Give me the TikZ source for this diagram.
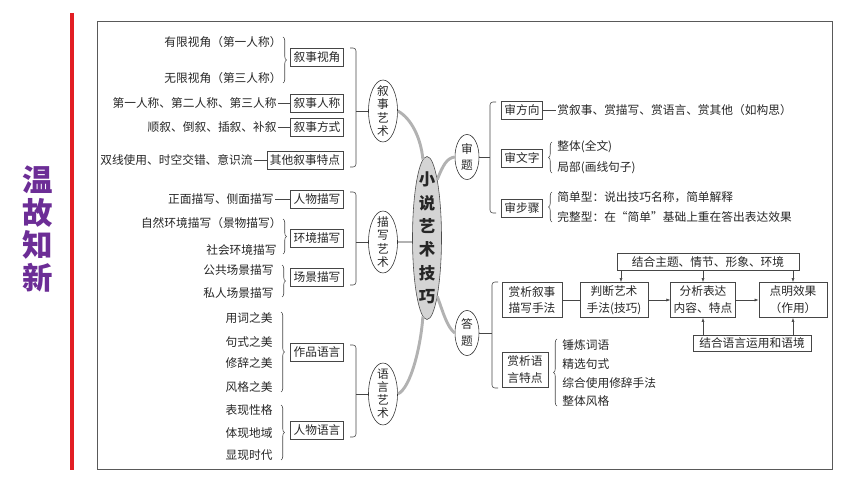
\documentclass[tikz,border=0pt]{standalone}
\usepackage{fontspec}
\setmainfont{Noto Sans CJK SC}
\usetikzlibrary{shapes.geometric,decorations.pathreplacing,arrows.meta,calc}
\definecolor{titlepurple}{RGB}{108,45,150}
\definecolor{edgered}{RGB}{226,30,36}
\definecolor{linegray}{RGB}{70,70,70}
\definecolor{branchgray}{RGB}{178,178,178}
\definecolor{coregray}{RGB}{212,212,212}
\begin{document}
\begin{tikzpicture}[
        x=0.03cm, y=-0.03cm,
        every node/.style={font=\fontsize{10}{12}\selectfont, text=black!85},
        txt/.style={inner sep=1pt},
        box/.style={draw=linegray, line width=0.5pt, inner xsep=2.5pt, inner ysep=1pt, minimum height=0.54cm},
        twobox/.style={box, align=center, font=\fontsize{10}{14.5}\selectfont, minimum width=1.8cm, minimum height=1.05cm},
        oval/.style={ellipse, draw=black!80, line width=0.5pt, inner sep=0, minimum width=0.87cm, minimum height=1.86cm},
        ovaltext/.style={align=center, inner sep=0, font=\fontsize{10}{11.2}\selectfont},
        link/.style={draw=linegray, line width=0.5pt},
        brc/.style={link, decorate, decoration={brace, amplitude=3pt}},
        bkt/.style={link, rounded corners=2.5pt},
        branch/.style={draw=branchgray, line width=2.5pt},
        arr/.style={link, -{Latex[length=3.5pt,width=2.6pt]}}
    ]
    \useasboundingbox (0,0) rectangle (860,484);

    % side title and frame
    \draw[edgered, line width=3pt] (72,13) -- (72,470);
    \node[
        font=\fontsize{26}{28}\selectfont\bfseries,
        text=titlepurple,
        align=center,
        inner sep=0
    ] (title) at (38,229) {温\\故\\知\\新};
    \draw[gray!70!black, line width=0.6pt] (97,21) rectangle (832,469);

    % centre and branches
    \node[
        oval,
        fill=coregray,
        draw=gray!60!black,
        minimum height=4.89cm,
        label={[ovaltext, font=\fontsize{14}{20}\selectfont\bfseries]center:{小\\说\\艺\\术\\技\\巧}}
    ] (core) at (427,238) {};
    \node[oval, label={[ovaltext]center:{叙\\事\\艺\\术}}] (xs) at (383,111) {};
    \node[oval, label={[ovaltext]center:{描\\写\\艺\\术}}] (ms) at (383,242) {};
    \node[oval, label={[ovaltext]center:{语\\言\\艺\\术}}] (yy) at (383,394) {};
    \node[
        oval,
        minimum width=0.72cm,
        minimum height=1.35cm,
        label={[ovaltext, font=\fontsize{10}{14.5}\selectfont]center:{审\\题}}
    ] (st) at (467,157) {};
    \node[
        oval,
        minimum width=0.72cm,
        minimum height=1.35cm,
        label={[ovaltext, font=\fontsize{10}{14.5}\selectfont]center:{答\\题}}
    ] (dt) at (467,333) {};

    \draw[branch] (xs.east) .. controls (411,118) and (421,138) .. (core.93);
    \draw[branch] (ms.east) -- (ms.east -| core.west);
    \draw[branch] (yy.east) .. controls (411,388) and (421,345) .. (core.267);
    \draw[branch] (core.80) .. controls (443,165) and (447,158) .. (st.west);
    \draw[branch] (core.280) .. controls (443,312) and (447,327) .. (dt.west);

    % 叙事艺术
    \node[txt, anchor=east] (t11) at (283,42) {有限视角（第一人称）};
    \node[txt, anchor=east] (t12) at (283,78) {无限视角（第三人称）};
    \node[box] (b11) at (317,57) {叙事视角};
    \draw[brc] (283,37) -- (283,83);
    \node[txt, anchor=east] (t13) at (278,103) {第一人称、第二人称、第三人称};
    \node[box] (b12) at (317,103) {叙事人称};
    \node[txt, anchor=east] (t14) at (278,127) {顺叙、倒叙、插叙、补叙};
    \node[box] (b13) at (317,127) {叙事方式};
    \node[txt, anchor=east] (t15) at (254,160) {双线使用、时空交错、意识流};
    \node[box] (b14) at (305,160) {其他叙事特点};
    \draw[link] (t13) -- (b12);
    \draw[link] (t14) -- (b13);
    \draw[link] (t15) -- (b14);
    \draw[bkt] (350,48) -- (356,48) -- (356,167) -- (350,167);
    \coordinate (xsb) at (356,111);
    \draw[link] (xsb) -- (xs);

    % 描写艺术
    \node[txt, anchor=east] (t21) at (275,199) {正面描写、侧面描写};
    \node[box] (b21) at (317,199) {人物描写};
    \draw[link] (t21) -- (b21);
    \node[txt, anchor=east] (t22) at (283,223) {自然环境描写（景物描写）};
    \node[txt, anchor=east] (t23) at (278,250) {社会环境描写};
    \node[box] (b22) at (317,238) {环境描写};
    \draw[brc] (283,219) -- (283,254);
    \node[txt, anchor=east] (t24) at (275,270) {公共场景描写};
    \node[txt, anchor=east] (t25) at (275,293) {私人场景描写};
    \node[box] (b23) at (317,277) {场景描写};
    \draw[brc] (282,265) -- (282,297);
    \draw[bkt] (350,192) -- (356,192) -- (356,285) -- (350,285);
    \coordinate (msb) at (356,242);
    \draw[link] (msb) -- (ms);

    % 语言艺术
    \node[txt, anchor=east] (t31) at (274,318) {用词之美};
    \node[txt, anchor=east] (t32) at (274,342) {句式之美};
    \node[txt, anchor=east] (t33) at (274,363) {修辞之美};
    \node[txt, anchor=east] (t34) at (274,387) {风格之美};
    \node[box] (b31) at (317,352) {作品语言};
    \draw[brc] (281,312) -- (281,392);
    \node[txt, anchor=east] (t35) at (274,410) {表现性格};
    \node[txt, anchor=east] (t36) at (274,433) {体现地域};
    \node[txt, anchor=east] (t37) at (274,455) {显现时代};
    \node[box] (b32) at (317,430) {人物语言};
    \draw[brc] (281,405) -- (281,460);
    \draw[bkt] (350,345) -- (356,345) -- (356,437) -- (350,437);
    \coordinate (yyb) at (356,394);
    \draw[link] (yyb) -- (yy);

    % 审题
    \node[box] (fx) at (522,110) {审方向};
    \node[txt, anchor=west] (fx1) at (556,110) {赏叙事、赏描写、赏语言、赏其他（如构思）};
    \draw[link] (fx) -- (fx1);
    \node[box] (wz) at (522,158) {审文字};
    \node[txt, anchor=west] (wz1) at (556,147) {整体(全文)};
    \node[txt, anchor=west] (wz2) at (556,168) {局部(画线句子)};
    \draw[brc] (552,173) -- (552,142);
    \node[box] (bz) at (522,208) {审步骤};
    \node[txt, anchor=west] (bz1) at (556,197) {简单型：说出技巧名称，简单解释};
    \node[txt, anchor=west] (bz2) at (556,217) {完整型：在“简单”基础上重在答出表达效果};
    \draw[brc] (552,222) -- (552,192);
    \draw[bkt] (496,102) -- (490,102) -- (490,213) -- (496,213);
    \coordinate (stb) at (490,157);
    \draw[link] (st) -- (stb);

    % 答题
    \node[twobox] (h1) at (532,300) {赏析叙事\\描写手法};
    \node[twobox, minimum width=2.04cm] (h2) at (614,300) {判断艺术\\手法(技巧)};
    \node[twobox] (h3) at (703,300) {分析表达\\内容、特点};
    \node[twobox, minimum width=2.04cm] (h4) at (793,300) {点明效果\\（作用）};
    \node[box, minimum width=5.46cm, minimum height=0.51cm] (zh) at (708,262) {结合主题、情节、形象、环境};
    \node[box, minimum width=3.54cm, minimum height=0.48cm] (yj) at (752,343) {结合语言运用和语境};
    \draw[link] (h1) -- (h2);
    \draw[arr] (h2) -- (h3);
    \draw[arr] (h3) -- (h4);
    \draw[arr] ($(h2.north)+(7,-12)$) -- ($(h2.north)+(7,0)$);
    \draw[arr] (zh.south -| h3.north) -- (h3.north);
    \draw[arr] (zh.south -| h4.north) -- (h4.north);
    \draw[arr] (yj.north -| h3.south) -- (h3.south);
    \draw[arr] (yj.north -| h4.south) -- (h4.south);
    \node[twobox, minimum width=1.38cm] (sy) at (525,370) {赏析语\\言特点};
    \node[txt, anchor=west] (sy1) at (561,345) {锤炼词语};
    \node[txt, anchor=west] (sy2) at (561,364) {精选句式};
    \node[txt, anchor=west] (sy3) at (561,383) {综合使用修辞手法};
    \node[txt, anchor=west] (sy4) at (561,401) {整体风格};
    \draw[brc] (557,406) -- (557,339);
    \draw[bkt] (498,282) -- (492,282) -- (492,388) -- (498,388);
    \coordinate (dtb) at (492,333);
    \draw[link] (dt) -- (dtb);
\end{tikzpicture}
\end{document}
